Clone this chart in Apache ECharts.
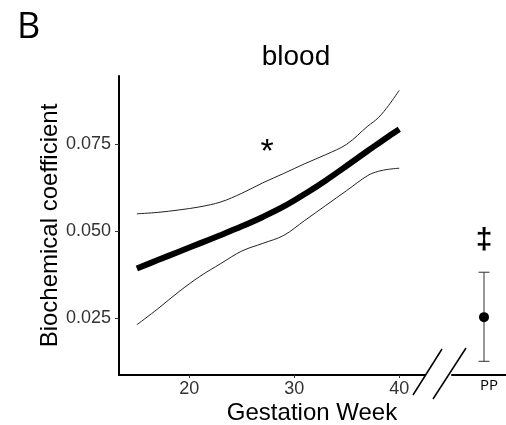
<!DOCTYPE html>
<html>
<head>
<meta charset="utf-8">
<script src="https://cdn.jsdelivr.net/npm/echarts@6/dist/echarts.min.js"></script>
<style>html,body{margin:0;padding:0;background:#fff}#c{width:506px;height:425px}</style>
</head>
<body>
<div id="c"></div>
<script>
// ---- data ----
const weeks = [15, 17, 19, 21, 23, 25, 27, 29, 31, 33, 35, 37, 38, 39, 40];
const fitValues = [0.0393, 0.0417, 0.0441, 0.0465, 0.0489, 0.0514, 0.0541, 0.0571, 0.0607, 0.0646, 0.0688, 0.0731, 0.0752, 0.0773, 0.0793];
const upperValues = [0.0550, 0.0554, 0.0561, 0.0570, 0.0584, 0.0609, 0.0639, 0.0666, 0.0694, 0.0720, 0.0750, 0.0802, 0.0826, 0.0862, 0.0905];
const lowerValues = [0.0231, 0.0277, 0.0326, 0.0370, 0.0407, 0.0443, 0.0465, 0.0488, 0.0531, 0.0574, 0.0617, 0.0660, 0.0672, 0.0678, 0.0681];
const ppCategories = ['PP'];
const ppMean = [0.0253];
const ppLow = [0.0126];
const ppHigh = [0.0382];
const xTicks = [20, 30, 40];
const yTicks = [0.025, 0.050, 0.075];

const FONT = 'Liberation Sans';
const pair = (xs, ys) => xs.map((x, i) => [x, ys[i]]);
const yMin = 0.00867, yMax = 0.0946;

const chart = echarts.init(document.getElementById('c'), null, {renderer: 'canvas'});
chart.setOption({
  animation: false,
  backgroundColor: '#fff',
  grid: [
    {left: 119, right: 81, top: 76, bottom: 50, containLabel: false, outerBoundsMode: 'none'},
    {left: 452, width: 64, top: 76, bottom: 50, containLabel: false, outerBoundsMode: 'none'}
  ],
  xAxis: [
    {
      gridIndex: 0, type: 'value', min: 13.3, max: 42.45,
      axisLine: {show: true, lineStyle: {color: '#000', width: 2}},
      axisTick: {show: true, length: 3, customValues: xTicks, lineStyle: {color: '#333', width: 1}},
      axisLabel: {customValues: xTicks, fontSize: 18, color: '#333', margin: 5, fontFamily: FONT},
      splitLine: {show: false},
      name: 'Gestation Week', nameLocation: 'middle', nameGap: 26, nameMoveOverlap: false,
      nameTextStyle: {fontSize: 24, color: '#000', fontFamily: FONT, padding: [0, 0, 0, 80]}
    },
    {
      gridIndex: 1, type: 'category', data: ppCategories,
      axisLine: {show: true, lineStyle: {color: '#000', width: 2}},
      axisTick: {show: false},
      axisLabel: {fontSize: 15, color: '#000', margin: 3, fontFamily: 'Open Sans', padding: [0, 0, 0, 10]},
      splitLine: {show: false}
    }
  ],
  yAxis: [
    {
      gridIndex: 0, type: 'value', min: yMin, max: yMax,
      axisLine: {show: true, lineStyle: {color: '#000', width: 2}},
      axisTick: {show: true, length: 4, customValues: yTicks, lineStyle: {color: '#333', width: 1}},
      axisLabel: {customValues: yTicks, fontSize: 18, color: '#333', margin: 8, fontFamily: FONT,
        formatter: v => v.toFixed(3)},
      splitLine: {show: false},
      name: 'Biochemical coefficient', nameLocation: 'middle', nameGap: 57, nameMoveOverlap: false,
      nameTextStyle: {fontSize: 24, color: '#000', fontFamily: FONT}
    },
    {
      gridIndex: 1, type: 'value', min: yMin, max: yMax, show: false
    }
  ],
  series: [
    {type: 'line', xAxisIndex: 0, yAxisIndex: 0, data: pair(weeks, upperValues), smooth: 0.35,
      symbol: 'none', lineStyle: {color: '#222', width: 1}},
    {type: 'line', xAxisIndex: 0, yAxisIndex: 0, data: pair(weeks, lowerValues), smooth: 0.35,
      symbol: 'none', lineStyle: {color: '#222', width: 1}},
    {type: 'line', xAxisIndex: 0, yAxisIndex: 0, data: pair(weeks, fitValues), smooth: 0.35,
      symbol: 'none', lineStyle: {color: '#000', width: 6}},
    {
      type: 'custom', xAxisIndex: 1, yAxisIndex: 1,
      data: ppCategories.map((c, i) => [i, ppLow[i], ppHigh[i]]),
      encode: {x: 0, y: [1, 2]},
      renderItem: (params, api) => {
        const lo = api.coord([api.value(0), api.value(1)]);
        const hi = api.coord([api.value(0), api.value(2)]);
        const hw = 5.5;
        const st = {stroke: '#333', lineWidth: 1};
        return {type: 'group', children: [
          {type: 'line', shape: {x1: lo[0], y1: hi[1], x2: lo[0], y2: lo[1]}, style: st},
          {type: 'line', shape: {x1: lo[0] - hw, y1: hi[1], x2: lo[0] + hw, y2: hi[1]}, style: st},
          {type: 'line', shape: {x1: lo[0] - hw, y1: lo[1], x2: lo[0] + hw, y2: lo[1]}, style: st}
        ]};
      }
    },
    {type: 'scatter', xAxisIndex: 1, yAxisIndex: 1, data: ppCategories.map((c, i) => [i, ppMean[i]]),
      symbol: 'circle', symbolSize: 10, itemStyle: {color: '#000', opacity: 1}, z: 5}
  ],
  graphic: [
    {type: 'text', left: 17, top: 10, style: {text: 'B', fontSize: 36, fontFamily: 'Open Sans', fill: '#000'}},
    {type: 'text', x: 296, y: 57, style: {text: 'blood', fontSize: 28, fontFamily: FONT, fill: '#000', align: 'center', verticalAlign: 'middle'}},
    {type: 'text', x: 267, y: 153, style: {text: '*', fontSize: 34, fontFamily: FONT, fill: '#000', align: 'center', verticalAlign: 'middle'}},
    {type: 'text', x: 484, y: 241, style: {text: '‡', fontSize: 30, fontFamily: FONT, fontWeight: 'bold', fill: '#000', align: 'center', verticalAlign: 'middle'}},
    {type: 'rect', shape: {x: 426, y: 370, width: 24, height: 10}, style: {fill: '#fff'}, z: 100},
    {type: 'line', shape: {x1: 413, y1: 395, x2: 442, y2: 349}, style: {stroke: '#000', lineWidth: 1.5}, z: 101},
    {type: 'line', shape: {x1: 433, y1: 399, x2: 466, y2: 348}, style: {stroke: '#000', lineWidth: 1.5}, z: 101}
  ]
});
</script>
</body>
</html>
